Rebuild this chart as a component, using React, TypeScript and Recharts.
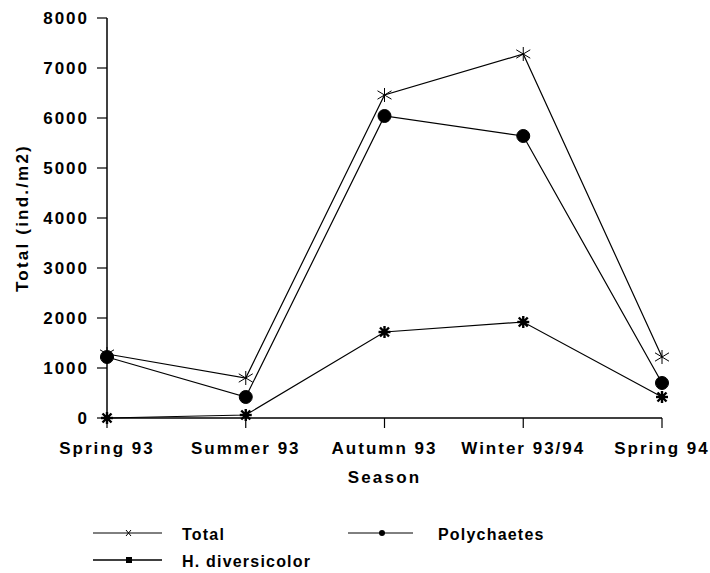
import React from 'react';
import { LineChart, Line, XAxis, YAxis, Label } from 'recharts';

const seasons = ['Spring 93', 'Summer 93', 'Autumn 93', 'Winter 93/94', 'Spring 94'];
const totalValues = [1280, 800, 6460, 7280, 1220];
const polychaetesValues = [1220, 420, 6040, 5640, 700];
const diversicolorValues = [0, 60, 1720, 1920, 420];
const yTicks = [0, 1000, 2000, 3000, 4000, 5000, 6000, 7000, 8000];
const seriesNames = { total: 'Total', poly: 'Polychaetes', div: 'H. diversicolor' };

const data = seasons.map((s, i) => ({
  season: s,
  total: totalValues[i],
  poly: polychaetesValues[i],
  div: diversicolorValues[i],
}));

const FONT = '"Liberation Sans", Arial, sans-serif';

const TotalDot = (props: any) => {
  const { cx, cy, index } = props;
  if (cx == null || cy == null) return <g key={index} />;
  const r = 7;
  return (
    <g key={`t${index}`} stroke="#000" strokeWidth={1}>
      <line x1={cx - r} y1={cy - r * 0.6} x2={cx + r} y2={cy + r * 0.6} />
      <line x1={cx - r} y1={cy + r * 0.6} x2={cx + r} y2={cy - r * 0.6} />
      <line x1={cx} y1={cy - r} x2={cx} y2={cy + r} />
    </g>
  );
};

const PolyDot = (props: any) => {
  const { cx, cy, index } = props;
  if (cx == null || cy == null) return <g key={index} />;
  return <circle key={`p${index}`} cx={cx} cy={cy} r={6.5} fill="#000" stroke="#000" />;
};

const DivDot = (props: any) => {
  const { cx, cy, index } = props;
  if (cx == null || cy == null) return <g key={index} />;
  const r = 6;
  const d = r * 0.75;
  return (
    <g key={`d${index}`} stroke="#000" strokeWidth={2.4}>
      <line x1={cx - r} y1={cy} x2={cx + r} y2={cy} />
      <line x1={cx} y1={cy - r} x2={cx} y2={cy + r} />
      <line x1={cx - d} y1={cy - d} x2={cx + d} y2={cy + d} />
      <line x1={cx - d} y1={cy + d} x2={cx + d} y2={cy - d} />
      <circle cx={cx} cy={cy} r={3} fill="#000" stroke="none" />
    </g>
  );
};

const tickStyle = { fontFamily: FONT, fontWeight: 700, fontSize: 17, fill: '#000', letterSpacing: 2 };

const LegendBlock = () => {
  const textStyle: any = { fontFamily: FONT, fontWeight: 700, fontSize: 16, fill: '#000', letterSpacing: 1.2 };
  return (
    <svg width={710} height={60} style={{ position: 'absolute', left: 0, top: 510 }}>
      {/* Total */}
      <line x1={93} y1={23} x2={162} y2={23} stroke="#000" strokeWidth={1} />
      <line x1={126} y1={20} x2={131} y2={26} stroke="#000" strokeWidth={1} />
      <line x1={126} y1={26} x2={131} y2={20} stroke="#000" strokeWidth={1} />
      <text x={182} y={30} style={textStyle}>{seriesNames.total}</text>
      {/* Polychaetes */}
      <line x1={348} y1={23} x2={413} y2={23} stroke="#000" strokeWidth={1} />
      <circle cx={382} cy={23} r={3} fill="#000" />
      <text x={438} y={30} style={textStyle}>{seriesNames.poly}</text>
      {/* H. diversicolor */}
      <line x1={93} y1={50} x2={162} y2={50} stroke="#000" strokeWidth={1.5} />
      <rect x={126} y={47} width={6} height={6} fill="#000" />
      <text x={182} y={57} style={textStyle}>{seriesNames.div}</text>
    </svg>
  );
};

export default function App() {
  return (
    <div style={{ position: 'absolute', left: 0, top: 0, width: 710, height: 573, background: '#fff' }}>
      <LineChart
        width={710}
        height={573}
        data={data}
        margin={{ top: 18, right: 48, left: 12, bottom: 85 }}
      >
        <XAxis
          dataKey="season"
          height={70}
          tick={tickStyle}
          tickSize={10}
          tickMargin={14}
          stroke="#000"
          axisLine={{ stroke: '#000', strokeWidth: 1.5 }}
          tickLine={{ stroke: '#000', strokeWidth: 1.2 }}
          interval={0}
        >
          <Label
            value="Season"
            position="insideBottom"
            offset={5}
            style={{ fontFamily: FONT, fontWeight: 700, fontSize: 17, fill: '#000', letterSpacing: 2.2 }}
          />
        </XAxis>
        <YAxis
          width={95}
          domain={[0, 8000]}
          ticks={yTicks}
          interval={0}
          tick={tickStyle}
          tickSize={10}
          tickMargin={8}
          stroke="#000"
          axisLine={{ stroke: '#000', strokeWidth: 1.5 }}
          tickLine={{ stroke: '#000', strokeWidth: 1.2 }}
        >
          <Label
            value="Total (ind./m2)"
            angle={-90}
            position="insideLeft"
            offset={10}
            style={{ fontFamily: FONT, fontWeight: 700, fontSize: 17, fill: '#000', letterSpacing: 2.2, textAnchor: 'middle' }}
          />
        </YAxis>
        <Line
          dataKey="total"
          name={seriesNames.total}
          stroke="#000"
          strokeWidth={1.2}
          dot={TotalDot}
          activeDot={false}
          isAnimationActive={false}
          type="linear"
        />
        <Line
          dataKey="poly"
          name={seriesNames.poly}
          stroke="#000"
          strokeWidth={1.2}
          dot={PolyDot}
          activeDot={false}
          isAnimationActive={false}
          type="linear"
        />
        <Line
          dataKey="div"
          name={seriesNames.div}
          stroke="#000"
          strokeWidth={1.2}
          dot={DivDot}
          activeDot={false}
          isAnimationActive={false}
          type="linear"
        />
      </LineChart>
      <LegendBlock />
    </div>
  );
}
